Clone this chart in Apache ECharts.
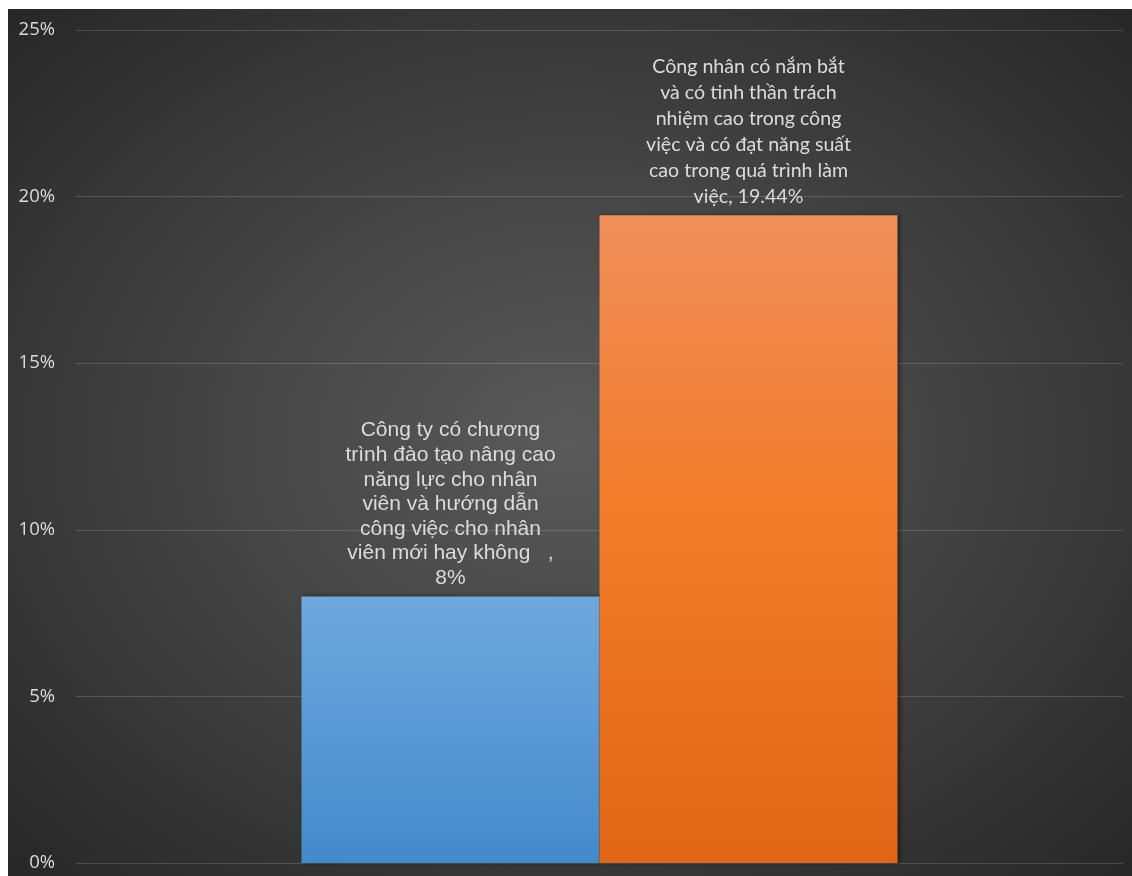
<!DOCTYPE html>
<html>
<head>
<meta charset="utf-8">
<script src="https://cdn.jsdelivr.net/npm/echarts@6/dist/echarts.min.js"></script>
<style>
  html, body { margin: 0; padding: 0; background: #ffffff; }
  #chart {
    position: absolute; left: 8px; top: 9px; width: 1124px; height: 867px;
    background: radial-gradient(ellipse farthest-corner at 50% 50%, #5a5a5a 0%, #444444 45%, #272727 100%);
  }
</style>
</head>
<body>
<div id="chart"></div>
<script>
// Survey answers shown as two adjacent bars in a single category
const categories = [''];
const seriesNames = [
  'Công ty có chương\ntrình đào tạo nâng cao\nnăng lực cho nhân\nviên và hướng dẫn\ncông việc cho nhân\nviên mới hay không   ,',
  'Công nhân có nắm bắt\nvà có tinh thần trách\nnhiệm cao trong công\nviệc và có đạt năng suất\ncao trong quá trình làm\nviệc,'
];
const values = [8, 19.44];
const yTicks = [0, 5, 10, 15, 20, 25];

const chart = echarts.init(document.getElementById('chart'), null, { renderer: 'canvas' });

const labelFonts = ['"Liberation Sans", Arial, sans-serif', 'Lato, "Open Sans", sans-serif'];
const labelSizes = [21, 19.6];
const labelLineHeights = [24.6, 26];
const labelSeparators = ['\n', ' '];

const gradients = [
  new echarts.graphic.LinearGradient(0, 0, 0, 1, [
    { offset: 0, color: '#6fa8de' },
    { offset: 1, color: '#438acb' }
  ]),
  new echarts.graphic.LinearGradient(0, 0, 0, 1, [
    { offset: 0, color: '#f08e5a' },
    { offset: 0.45, color: '#f27c2a' },
    { offset: 1, color: '#e06616' }
  ])
];

const series = values.map((v, i) => ({
  name: seriesNames[i],
  type: 'bar',
  barWidth: 298,
  barGap: '0%',
  data: [v],
  itemStyle: {
    color: gradients[i],
    shadowColor: 'rgba(0,0,0,0.45)',
    shadowBlur: 4,
    shadowOffsetX: 2,
    shadowOffsetY: 0
  },
  label: {
    show: true,
    position: 'top',
    distance: 6,
    color: '#dcdcdc',
    fontFamily: labelFonts[i],
    fontSize: labelSizes[i],
    lineHeight: labelLineHeights[i],
    align: 'center',
    formatter: (p) => seriesNames[i] + labelSeparators[i] + p.value + '%'
  },
  z: 2
}));

chart.setOption({
  backgroundColor: 'transparent',
  animation: false,
  grid: { left: 68, right: 9, top: 21, bottom: 13, containLabel: false },
  xAxis: {
    type: 'category',
    data: categories,
    axisLine: { show: false },
    axisTick: { show: false },
    axisLabel: { show: false }
  },
  yAxis: {
    type: 'value',
    min: yTicks[0],
    max: yTicks[yTicks.length - 1],
    interval: yTicks[1] - yTicks[0],
    axisLine: { show: false },
    axisTick: { show: false },
    axisLabel: {
      formatter: '{value}%',
      color: '#dcdcdc',
      fontSize: 18.5,
      fontFamily: '"Open Sans", "Noto Sans", sans-serif',
      margin: 21
    },
    splitLine: { lineStyle: { color: 'rgba(255,255,255,0.16)', width: 1 } }
  },
  series: series
});
</script>
</body>
</html>
